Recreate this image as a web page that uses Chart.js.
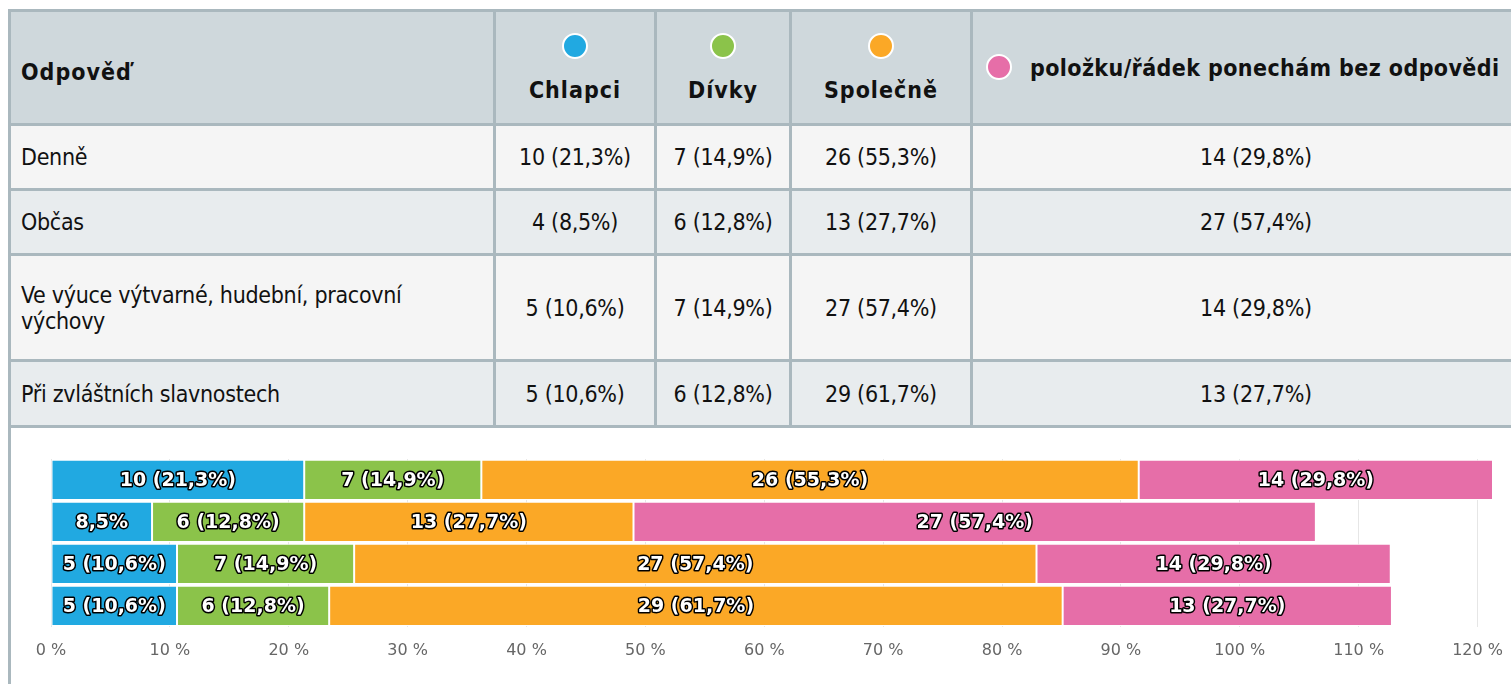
<!DOCTYPE html>
<html>
<head>
<meta charset="utf-8">
<script src="https://cdn.jsdelivr.net/npm/chart.js@4/dist/chart.umd.min.js"></script>
<style>
  html, body { margin: 0; padding: 0; background: #fff; overflow: hidden; width: 1511px; height: 684px; }
  .wrap { position: absolute; left: 8px; top: 9px; width: 1560px; height: 700px; border-left: 3px solid #aab8be; }
  table { border-collapse: collapse; table-layout: fixed; width: 1531px; font-family: "Liberation Sans Narrow", "DejaVu Sans Condensed", sans-serif; font-size: 23px; letter-spacing: -0.3px; color: #111; margin-left: -3px; }
  td, th { border: 3px solid #aab8be; padding: 0 10px; }
  th { background: #cfd8dc; font-weight: bold; letter-spacing: 1px; height: 111px; vertical-align: middle; }
  th.first { text-align: left; padding-top: 8px; height: 103px; }
  th.last { white-space: nowrap; letter-spacing: 0.4px; text-align: left; padding-left: 13px; }
  td { text-align: center; height: 62px; }
  td.first { text-align: left; }
  tr.odd td { background: #f5f5f5; }
  tr.even td { background: #e8ecee; }
  tr.tall td { height: 103px; }
  tr.end td { height: 63px; }
  .dot { display: block; width: 22px; height: 22px; border-radius: 50%; border: 2px solid #fff; margin: 0 auto 18px; }
  .dot.inl { display: inline-block; vertical-align: -4px; margin: 0 18px 0 0; }
  .cv { position: absolute; left: 11px; top: 430px; width: 1510px; height: 254px; }
</style>
</head>
<body>
<div class="wrap">
  <table id="tbl">
    <colgroup>
      <col style="width:485px"><col style="width:161px"><col style="width:135px"><col style="width:181px"><col style="width:569px">
    </colgroup>
    <thead><tr id="head"></tr></thead>
    <tbody id="body"></tbody>
  </table>
</div>
<div class="cv"><canvas id="chart"></canvas></div>
<script>
const categories = ['Denně', 'Občas', 'Ve výuce výtvarné, hudební, pracovní výchovy', 'Při zvláštních slavnostech'];
const seriesNames = ['Chlapci', 'Dívky', 'Společně', 'položku/řádek ponechám bez odpovědi'];
const seriesColors = ['#21a9e1', '#8bc34a', '#fba826', '#e66ea8'];
const chlapciCount = [10, 4, 5, 5];
const chlapciPct = [21.3, 8.5, 10.6, 10.6];
const divkyCount = [7, 6, 7, 6];
const divkyPct = [14.9, 12.8, 14.9, 12.8];
const spolecneCount = [26, 13, 27, 29];
const spolecnePct = [55.3, 27.7, 57.4, 61.7];
const bezCount = [14, 27, 14, 13];
const bezPct = [29.8, 57.4, 29.8, 27.7];
const xTicks = [0, 10, 20, 30, 40, 50, 60, 70, 80, 90, 100, 110, 120];

const counts = [chlapciCount, divkyCount, spolecneCount, bezCount];
const pcts = [chlapciPct, divkyPct, spolecnePct, bezPct];
const fmt = v => String(v).replace('.', ',');

// table
const head = document.getElementById('head');
head.innerHTML = '<th class="first">Odpověď</th>' + seriesNames.map((n, i) =>
  i < 3 ? `<th><span class="dot" style="background:${seriesColors[i]}"></span>${n}</th>`
        : `<th class="last"><span class="dot inl" style="background:${seriesColors[i]}"></span>${n}</th>`).join('');
const body = document.getElementById('body');
categories.forEach((c, r) => {
  const tr = document.createElement('tr');
  tr.className = (r % 2 ? 'even' : 'odd') + (r === 2 ? ' tall' : '') + (r === categories.length - 1 ? ' end' : '');
  const label = r === 2 ? 'Ve výuce výtvarné, hudební, pracovní<br>výchovy' : c;
  tr.innerHTML = `<td class="first">${label}</td>` + counts.map((s, i) => `<td>${s[r]} (${fmt(pcts[i][r])}%)</td>`).join('');
  body.appendChild(tr);
});

// data labels
const labelPlugin = {
  id: 'barLabels',
  afterDatasetsDraw(chart) {
    const ctx = chart.ctx;
    ctx.save();
    ctx.font = 'bold 19px "DejaVu Sans"';
    ctx.textAlign = 'center';
    ctx.textBaseline = 'middle';
    ctx.lineJoin = 'round';
    chart.data.datasets.forEach((ds, i) => {
      chart.getDatasetMeta(i).data.forEach((bar, j) => {
        let txt = `${counts[i][j]} (${fmt(pcts[i][j])}%)`;
        const w = Math.abs(bar.x - bar.base);
        if (ctx.measureText(txt).width + 20 > w) txt = `${fmt(pcts[i][j])}%`;
        const x = (bar.x + bar.base) / 2;
        ctx.strokeStyle = '#000';
        ctx.lineWidth = 3;
        ctx.strokeText(txt, x, bar.y + 1);
        ctx.fillStyle = '#fff';
        ctx.fillText(txt, x, bar.y + 1);
      });
    });
    ctx.restore();
  }
};

const totals = categories.map((c, j) => pcts.reduce((s, p) => s + p[j], 0));

new Chart(document.getElementById('chart'), {
  type: 'bar',
  data: {
    labels: categories,
    datasets: seriesNames.map((n, i) => ({
      label: n,
      data: pcts[i],
      backgroundColor: seriesColors[i],
      borderColor: '#fff',
      borderWidth: 1,
      borderSkipped: false,
      categoryPercentage: 1,
      barPercentage: 0.96
    }))
  },
  options: {
    indexAxis: 'y',
    responsive: true,
    maintainAspectRatio: false,
    animation: false,
    layout: { padding: { left: 40, right: 28, top: 29, bottom: 10 } },
    plugins: { legend: { display: false }, tooltip: { enabled: false } },
    scales: {
      x: {
        stacked: true,
        min: 0,
        max: Math.max(...totals),
        afterBuildTicks: axis => { axis.ticks = xTicks.map(v => ({ value: v })); },
        grid: { color: '#e6e6e6', lineWidth: 1, drawTicks: false },
        border: { display: false },
        ticks: { color: '#666', font: { family: 'DejaVu Sans', size: 16 }, padding: 14, callback: v => v + ' %' }
      },
      y: {
        stacked: true,
        display: false
      }
    }
  },
  plugins: [labelPlugin]
});
</script>
</body>
</html>
